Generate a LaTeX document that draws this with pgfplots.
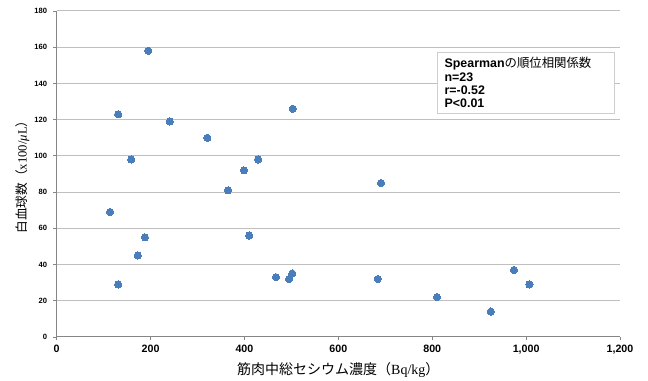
\documentclass[border=0pt]{standalone}
\usepackage{fontspec}
\setmainfont{Liberation Sans}
\newfontfamily\cjk{Noto Sans CJK JP}
\newfontfamily\serif{Liberation Serif}
\usepackage{pgfplots}
\pgfplotsset{compat=1.18}
\definecolor{mk}{RGB}{74,126,187}
\definecolor{axgray}{RGB}{134,134,134}
\definecolor{gridgray}{RGB}{191,191,191}
\definecolor{boxgray}{RGB}{205,205,205}
\begin{document}
\begin{tikzpicture}
\begin{axis}[
  scale only axis, width=422.6pt, height=244.5pt,
  xmin=0, xmax=1200, ymin=0, ymax=180,
  xtick={0,200,...,1200}, ytick={0,20,...,180},
  axis x line*=bottom, axis y line*=left,
  axis line style={axgray, line width=0.75pt},
  ymajorgrids, grid style={gridgray, line width=0.75pt},
  tick align=outside, major tick length=2.6pt,
  tick style={axgray, line width=0.6pt},
  /pgf/number format/assume math mode=true,
  /pgf/number format/1000 sep={,},
  xticklabel style={font=\bfseries\fontsize{8}{9}\selectfont},
  yticklabel style={font=\bfseries\fontsize{5.7}{6}\selectfont, xshift=-1pt},
  xlabel={{\cjk 筋肉中総セシウム濃度（}{\serif Bq/kg}{\cjk ）}},
  ylabel={{\cjk 白血球数（}{\serif x100/{\itshape μ}L}{\cjk ）}},
  xlabel style={at={(axis description cs:0.5,-0.1012)}, anchor=center, font=\fontsize{10.5}{12}\selectfont},
  ylabel style={at={(axis description cs:-0.0606,0.5)}, anchor=center, font=\fontsize{9.5}{11}\selectfont},
]
\addplot[only marks, mark=*, mark size=2.7pt, mk, mark options={draw=mk, fill=mk, line width=0pt}] table {
x y
114 69
131 29
131 123
159 98
173 45
188 55
195 158
241 119
321 110
365 81
399 92
410 56
429 98
467 33
495 32
502 35
503 126
684 32
691 85
810 22
925 14
974 37
1007 29
};
\node[draw=boxgray, fill=white, line width=0.75pt, anchor=north west,
  inner xsep=5.25pt, inner ysep=0pt, text width=122pt, minimum height=45.75pt,
  align=left, font=\bfseries\fontsize{9.3}{10}\selectfont]
  at (axis cs:810.5,157.5) {Spearman{\cjk\mdseries の順位相関係数}\\n=23\\r=-0.52\\P<0.01};
\end{axis}
\pgfresetboundingbox
\path (-42.5pt,-33pt) rectangle (443.6pt,252.75pt);
\end{tikzpicture}
\end{document}
